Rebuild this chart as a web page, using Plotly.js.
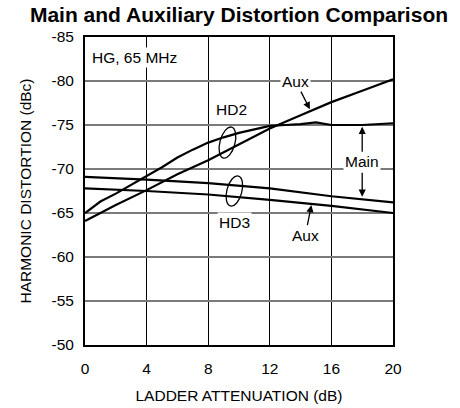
<!DOCTYPE html>
<html>
<head>
<meta charset="utf-8">
<script src="https://cdn.plot.ly/plotly-3.0.1.min.js"></script>
<style>html,body{margin:0;padding:0;background:#fff;}#chart{width:460px;height:408px;}</style>
</head>
<body>
<div id="chart"></div>
<script>
// ---- data ----
var hd2MainX = [0, 1, 2, 3, 4, 5, 6, 7, 8, 9, 10, 11, 12, 13, 14, 15, 16, 18, 20];
var hd2MainY = [-65, -66.3, -67.2, -68.2, -69.2, -70.2, -71.3, -72.2, -73.0, -73.6, -74.1, -74.5, -74.9, -75.0, -75.1, -75.3, -75.0, -75.0, -75.2];
var hd2AuxX = [0, 2, 4, 6, 8, 10, 12, 14, 16, 18, 20];
var hd2AuxY = [-64.1, -65.9, -67.6, -69.4, -71.0, -72.8, -74.6, -76.1, -77.6, -78.9, -80.2];
var hd3MainX = [0, 4, 8, 12, 16, 20];
var hd3MainY = [-69.1, -68.8, -68.4, -67.8, -66.9, -66.2];
var hd3AuxX = [0, 4, 8, 12, 16, 20];
var hd3AuxY = [-67.8, -67.5, -67.1, -66.5, -65.8, -65.0];
var xTickVals = [0, 4, 8, 12, 16, 20];
var xTickText = ['0', '4', '8', '12', '16', '20'];
var yTickVals = [-85, -80, -75, -70, -65, -60, -55, -50];
var yTickText = ['-85', '-80', '-75', '-70', '-65', '-60', '-55', '-50'];

var FONT = 'Liberation Sans, Arial, sans-serif';
var lineStyle = {color: '#000', width: 2.2};

function tr(x, y, name) {
  return {x: x, y: y, name: name, type: 'scatter', mode: 'lines', line: lineStyle, hoverinfo: 'skip'};
}
var traces = [
  tr(hd2MainX, hd2MainY, 'HD2 Main'),
  tr(hd2AuxX, hd2AuxY, 'HD2 Aux'),
  tr(hd3MainX, hd3MainY, 'HD3 Main'),
  tr(hd3AuxX, hd3AuxY, 'HD3 Aux')
];

// tilted ellipse path in pixel units (y up), built from cubic beziers
function ellipsePath(a, b, deg) {
  var th = deg * Math.PI / 180;
  var u = [Math.sin(th), Math.cos(th)], v = [Math.cos(th), -Math.sin(th)];
  var k = 0.5523;
  function P(t) { return [a*Math.cos(t)*u[0] + b*Math.sin(t)*v[0], a*Math.cos(t)*u[1] + b*Math.sin(t)*v[1]]; }
  function D(t) { return [-a*Math.sin(t)*u[0] + b*Math.cos(t)*v[0], -a*Math.sin(t)*u[1] + b*Math.cos(t)*v[1]]; }
  function f(p) { return p[0].toFixed(2) + ',' + p[1].toFixed(2); }
  var s = 'M' + f(P(0));
  for (var i = 0; i < 4; i++) {
    var t0 = i * Math.PI / 2, t1 = t0 + Math.PI / 2;
    var p0 = P(t0), p1 = P(t1), d0 = D(t0), d1 = D(t1);
    var c1 = [p0[0] + k*d0[0], p0[1] + k*d0[1]];
    var c2 = [p1[0] - k*d1[0], p1[1] - k*d1[1]];
    s += ' C' + f(c1) + ' ' + f(c2) + ' ' + f(p1);
  }
  return s + ' Z';
}
function ellipseShape(cx, cy, a, b, deg) {
  return {type: 'path', xref: 'x', yref: 'y', xsizemode: 'pixel', ysizemode: 'pixel',
    xanchor: cx, yanchor: cy, path: ellipsePath(a, b, deg), line: {color: '#000', width: 1.3}};
}

var annFont = {family: FONT, size: 15.5, color: '#000'};
var arrowCommon = {showarrow: true, arrowhead: 2, arrowsize: 1.1, arrowwidth: 1.3, arrowcolor: '#000', font: annFont};

var layout = {
  width: 460, height: 408,
  margin: {l: 85, r: 67, t: 37, b: 63, pad: 0},
  paper_bgcolor: '#fff', plot_bgcolor: '#fff',
  showlegend: false,
  font: {family: FONT, color: '#000'},
  title: {text: '<b>Main and Auxiliary Distortion Comparison</b>', font: {family: FONT, size: 21, color: '#000'},
    x: 0.5, xref: 'paper', xanchor: 'center', y: 1 - 15/408, yanchor: 'middle'},
  xaxis: {range: [0, 20], tickvals: xTickVals, ticktext: xTickText, showgrid: true, gridcolor: '#000', gridwidth: 1.3,
    zeroline: false, showline: true, linecolor: '#000', linewidth: 2, mirror: true, ticks: '',
    ticklabelstandoff: 8, tickfont: {family: FONT, size: 15.5, color: '#000'},
    title: {text: 'LADDER ATTENUATION (dB)', font: {family: FONT, size: 15.5, color: '#000'}, standoff: 15}},
  yaxis: {range: [-50, -85], tickvals: yTickVals, ticktext: yTickText, showgrid: true, gridcolor: '#7a7a7a', gridwidth: 1.3,
    zeroline: false, showline: true, linecolor: '#000', linewidth: 2, mirror: true, ticks: '',
    ticklabelstandoff: 6, tickfont: {family: FONT, size: 15.5, color: '#000'},
    title: {text: 'HARMONIC DISTORTION (dBc)', font: {family: FONT, size: 15.5, color: '#000'}, standoff: 16}},
  shapes: [
    ellipseShape(9.25, -73.0, 16, 7.5, 15),
    ellipseShape(9.7, -67.5, 15.5, 7.5, 15)
  ],
  annotations: [
    {x: 0.3, y: -82.7, xref: 'x', yref: 'y', text: 'HG, 65 MHz', showarrow: false, xanchor: 'left', yanchor: 'middle',
      bgcolor: '#fff', font: annFont},
    {x: 9.52, y: -76.8, xref: 'x', yref: 'y', text: 'HD2', showarrow: false, font: annFont},
    {x: 9.73, y: -63.9, xref: 'x', yref: 'y', text: 'HD3', showarrow: false, bgcolor: '#fff', font: annFont},
    Object.assign({x: 14.6, y: -76.8, xref: 'x', yref: 'y', text: 'Aux', ax: -14, ay: -27.5, bgcolor: '#fff'}, arrowCommon),
    Object.assign({x: 18, y: -74.8, xref: 'x', yref: 'y', text: 'Main', ax: 0, ay: 35, bgcolor: '#fff'}, arrowCommon),
    Object.assign({x: 18, y: -66.85, xref: 'x', yref: 'y', text: '', ax: 0, ay: -25.5}, arrowCommon),
    Object.assign({x: 14.7, y: -65.9, xref: 'x', yref: 'y', text: 'Aux', ax: -6, ay: 30}, arrowCommon)
  ]
};

Plotly.newPlot('chart', traces, layout, {displayModeBar: false, staticPlot: true});
</script>
</body>
</html>
